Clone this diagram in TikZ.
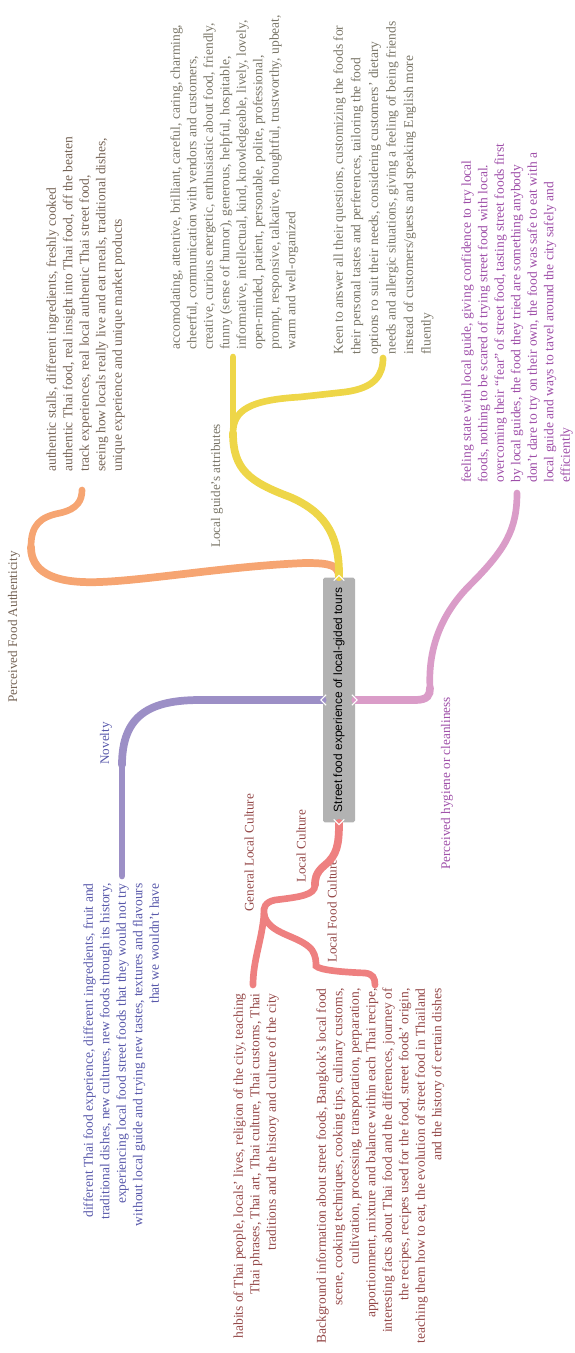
\documentclass[tikz,border=0pt]{standalone}
\usepackage{fontspec}
\setmainfont{Liberation Serif}
\newfontfamily\coresans{Liberation Sans}
\usetikzlibrary{positioning}

\definecolor{corefill}{RGB}{178,178,178}
\definecolor{authbr}{RGB}{246,165,114}
\definecolor{authtx}{RGB}{118,100,86}
\definecolor{guidebr}{RGB}{238,214,72}
\definecolor{guidetx}{RGB}{122,118,104}
\definecolor{novbr}{RGB}{156,143,198}
\definecolor{novtx}{RGB}{88,88,170}
\definecolor{hygbr}{RGB}{218,156,200}
\definecolor{hygtx}{RGB}{158,78,168}
\definecolor{cultbr}{RGB}{238,128,128}
\definecolor{culttx}{RGB}{148,72,72}

\tikzset {
    style core/.style={
        fill=corefill,
        rectangle, % Set the shape as a rectangle
        rounded corners=1pt,
        rotate=90,
        minimum width=4.9cm,
        minimum height=0.64cm,
        inner sep=0pt,
        font=\coresans\fontsize{6.8}{8}\selectfont,
    },
    style label/.style={
        rotate=90,
        inner sep=0pt,
        font=\fontsize{7.5}{9}\selectfont,
    },
    style leaf/.style={
        rotate=90,
        inner sep=0pt,
        font=\fontsize{7.7}{9.4}\selectfont,
    },
    style branch/.style={
        line width=4.4pt,
        line cap=round,
    },
    style twig/.style={
        line width=3.8pt,
        line cap=round,
    },
    style notch/.style={
        white,
        line width=0.6pt,
    },
}

\begin{document}
\begin{tikzpicture}[x=0.02cm, y=-0.02cm]
\useasboundingbox (0,0) rectangle (575,1353);

\node[style core] at (339,700) (core) {Street food experience of local-gided tours};

\node[style label, text=authtx, anchor=west] at (14,703) (auth) {Perceived Food Authenticity};
\node[style leaf, text=authtx, align=left, anchor=north west] at (46,472) (authtxt) {authentic stalls, different ingredients, freshly cooked\\
authentic Thai food, real insight into Thai food, off the beaten\\
track experiences, real local authentic Thai street food,\\
seeing how locals really live and eat meals, traditional dishes,\\
unique experience and unique market products};

\node[style label, text=guidetx, anchor=west] at (217,548) (guide) {Local guide’s attributes};
\node[style leaf, text=guidetx, align=left, anchor=north west] at (170,350) (guidetxt) {accomodating, attentive, brilliant, careful, caring, charming,\\
cheerful, communication with vendors and customers,\\
creative, curious energetic, enthusiastic about food, friendly,\\
funny (sense of humor), generous, helpful, hospitable,\\
informative, intellectual, kind, knowledgeable, lively, lovely,\\
open-minded, patient, personable, polite, professional,\\
prompt, responsive, talkative, thoughtful, trustworthy, upbeat,\\
warm and well-organized};
\node[style leaf, text=guidetx, align=left, anchor=north west, font=\fontsize{7.7}{10}\selectfont] at (333,355) (keentxt) {Keen to answer all their questions, customizing the foods for\\
their personal tastes and perferences, tailoring the food\\
options ro suit their needs, considering customers’ dietary\\
needs and allergic situations, giving a feeling of being friends\\
instead of customers/guests and speaking English more\\
fluently};

\node[style label, text=novtx, anchor=west] at (106,765) (nov) {Novelty};
\node[style leaf, text=novtx, align=right, anchor=north east] at (83,883) (novtxt) {different Thai food experience, different ingredients, fruit and\\
traditional dishes, new cultures, new foods through its history,\\
experiencing local food street foods that they would not try\\
without local guide and trying new tastes, textures and flavours\\
that we wouldn’t have};

\node[style label, text=hygtx, anchor=west] at (447,870) (hyg) {Perceived hygiene or cleanliness};
\node[style leaf, text=hygtx, align=left, anchor=north west] at (461,483) (hygtxt) {feeling state with local guide, giving confidence to try local\\
foods, nothing to be scared of trying street food with local.\\
overcoming their “fear” of street food, tasting street foods first\\
by local guides, the food they tried are something anybody\\
don’t dare to try on their own, the food was safe to eat with a\\
local guide and ways to tavel around the city safely and\\
efficiently};

\node[style label, text=culttx, anchor=west] at (301,883) (cult) {Local Culture};
\node[style label, text=culttx, anchor=west] at (249,912) (gen) {General Local Culture};
\node[style label, text=culttx, anchor=west] at (332,963) (food) {Local Food Culture};
\node[style leaf, text=culttx, align=right, anchor=north east] at (233,993) (gentxt) {habits of Thai people, locals’ lives, religion of the city, teaching\\
Thai phrases, Thai art, Thai culture, Thai customs, Thai\\
traditions and the history and culture of the city};
\node[style leaf, text=culttx, align=right, anchor=north east] at (316,988) (foodtxt) {Background information about street foods, Bangkok’s local food\\
scene, cooking techniques, cooking tips, culinary customs,\\
cultivation, processing, transportation, perparation,\\
apportionment, mixture and balance within each Thai recipe,\\
interesting facts about Thai food and the differences, journey of\\
the recipes, recipes used for the food, street foods’ origin,\\
teaching them how to eat, the evolution of street food in Thailand\\
and the history of certain dishes};

% kinks and branch ends
\coordinate (kauth) at (31,547);
\coordinate (eauth) at (82,490);
\coordinate (kguide) at (233,433);
\coordinate (eguide) at (233,357);
\coordinate (ekeen) at (383,358);
\coordinate (knov) at (122,765);
\coordinate (enov) at (122,876);
\coordinate (khyg) at (430,688);
\coordinate (ehyg) at (517,493);
\coordinate (kcult) at (315,885);
\coordinate (kgen) at (264,914);
\coordinate (egen) at (253,985);
\coordinate (kfood) at (316,966);
\coordinate (efood) at (375,985);

\draw[style branch, authbr] (core.east) .. controls (339,565) and (330,563) .. (305,563) .. controls (230,566) and (150,580) .. (100,582) .. controls (50,584) and (31,570) .. (kauth);
\draw[style twig, authbr] (kauth) .. controls (31,525) and (40,517) .. (60,513) .. controls (78,509) and (82,500) .. (eauth);
\draw[style branch, guidebr] (core.east) .. controls (340,530) and (320,510) .. (290,497) .. controls (250,482) and (233,470) .. (kguide);
\draw[style twig, guidebr] (kguide) -- (eguide);
\draw[style twig, guidebr] (kguide) .. controls (233,410) and (250,400) .. (300,397) -- (345,392) .. controls (375,388) and (383,375) .. (ekeen);
\draw[style branch, novbr] (core.north) -- (200,700) .. controls (150,700) and (122,715) .. (knov);
\draw[style twig, novbr] (knov) -- (enov);
\draw[style branch, hygbr] (core.south) -- (415,700) .. controls (428,700) and (430,695) .. (khyg);
\draw[style twig, hygbr] (khyg) .. controls (428,650) and (440,615) .. (470,585) .. controls (505,550) and (517,530) .. (ehyg);
\draw[style branch, cultbr] (core.west) .. controls (339,845) and (337,855) .. (325,865) .. controls (315,873) and (315,880) .. (kcult);
\draw[style twig, cultbr] (kcult) .. controls (315,895) and (300,897) .. (275,900) .. controls (265,902) and (263,908) .. (kgen);
\draw[style twig, cultbr] (kgen) .. controls (262,940) and (253,960) .. (egen);
\draw[style twig, cultbr] (kgen) .. controls (268,935) and (300,935) .. (312,950) .. controls (316,956) and (316,962) .. (kfood) .. controls (320,970) and (340,972) .. (365,973) .. controls (373,974) and (375,978) .. (efood);

% white notches
\draw[style notch] ([xshift=-3pt,yshift=-2pt]core.east) -- ([yshift=1pt]core.east) -- ([xshift=3pt,yshift=-2pt]core.east);
\draw[style notch] ([xshift=-3pt,yshift=2pt]core.west) -- ([yshift=-1pt]core.west) -- ([xshift=3pt,yshift=2pt]core.west);
\draw[style notch] ([xshift=2pt,yshift=3pt]core.north) -- ([xshift=-1pt]core.north) -- ([xshift=2pt,yshift=-3pt]core.north);
\draw[style notch] ([xshift=-2pt,yshift=3pt]core.south) -- ([xshift=1pt]core.south) -- ([xshift=-2pt,yshift=-3pt]core.south);
\end{tikzpicture}
\end{document}
